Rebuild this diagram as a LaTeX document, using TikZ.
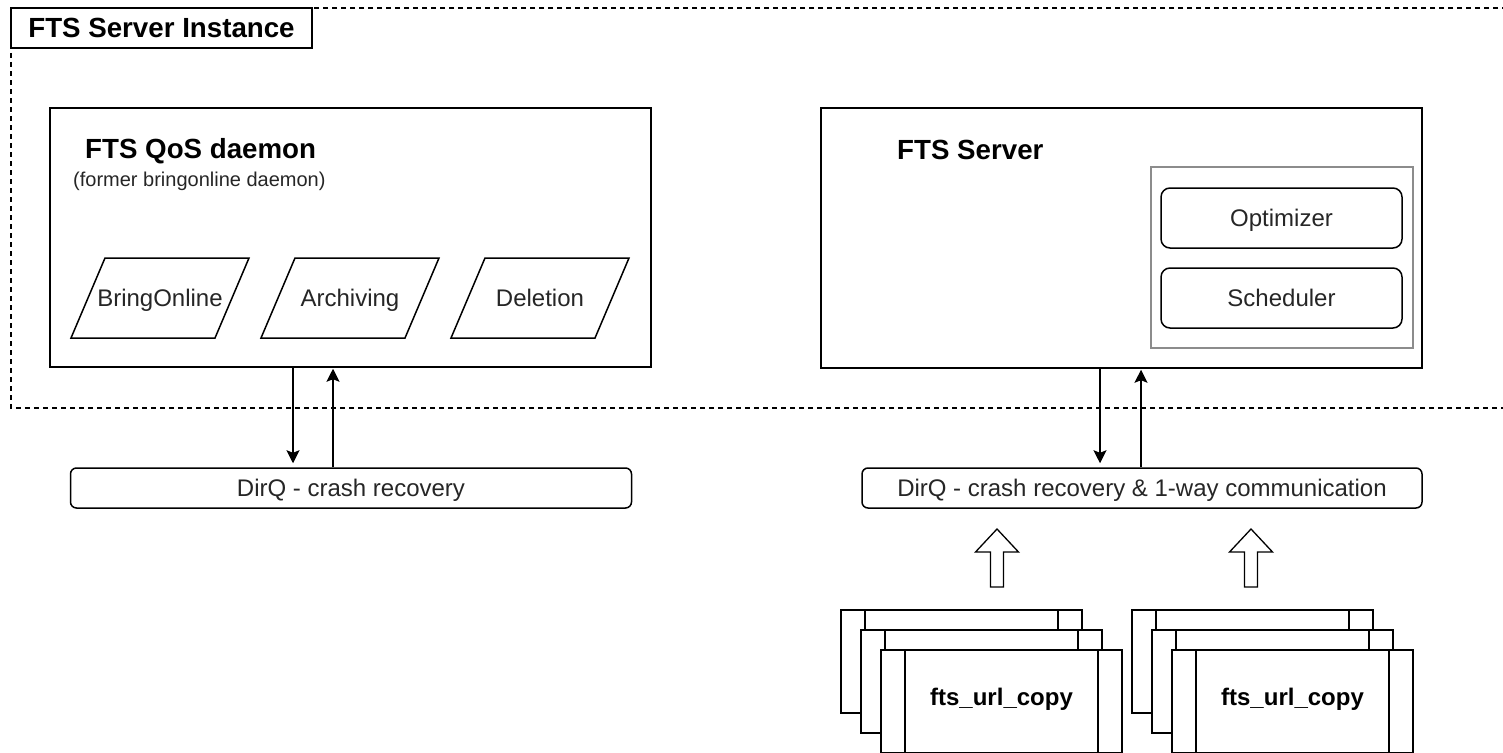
\documentclass[tikz,border=0pt]{standalone}
\usepackage{fontspec}
\setmainfont{Liberation Sans}
\usetikzlibrary{arrows.meta}
\begin{document}
\begin{tikzpicture}[x=1pt,y=-1pt,
  boxline/.style={line width=1.5pt},
  box/.style={draw, boxline, fill=white, inner sep=0pt},
  lbl/.style={font=\fontsize{24}{28}\selectfont, text=black!85, text height=17.2pt, text depth=0pt, inner sep=0pt},
  head/.style={font=\fontsize{27.7}{32}\selectfont\bfseries, anchor=base west, inner sep=0pt},
  sub/.style={font=\fontsize{20}{24}\selectfont, text=black!85, anchor=base west, inner sep=0pt},
  conn/.style={line width=1.3pt, -{Stealth[length=13pt,width=13pt,inset=2.5pt]}},
  proc/.pic={
    \draw[boxline, fill=white] (0,0) rectangle (241,103);
    \draw[boxline] (24,0) -- (24,103) (217,0) -- (217,103);
  }
]
\useasboundingbox (0,0) rectangle (1503,752);

% outer dashed frame
\draw[line width=1.2pt, dash pattern=on 5pt off 4pt] (11,8) rectangle (1520,408);
\node[box, minimum width=301pt, minimum height=40pt,
      font=\fontsize{27.7}{32}\selectfont\bfseries, text height=19.8pt, text depth=0pt]
      (title) at (161.5,28) {FTS Server Instance};

% QoS daemon
\node[box, minimum width=601pt, minimum height=259pt] (qos) at (350.5,237.5) {};
\node[head] (qost) at (85,158) {FTS QoS daemon};
\node[sub] (qoss) at (73,186) {(former bringonline daemon)};

\foreach \x/\t/\n in {71/BringOnline/bo, 261/Archiving/ar, 451/Deletion/de}{
  \draw[boxline, fill=white] (\x,338) -- ++(144,0) -- ++(34,-80) -- ++(-144,0) -- cycle;
  \node[lbl] (\n) at (\x+89,298) {\t};
}

% FTS Server
\node[box, minimum width=601pt, minimum height=260pt] (srv) at (1121.5,238) {};
\node[head] (srvt) at (897,159) {FTS Server};
\node[draw=black!45, line width=1.5pt, fill=white, minimum width=262pt, minimum height=181pt, inner sep=0pt] (grp) at (1282,257.5) {};
\node[box, rounded corners=9pt, minimum width=241pt, minimum height=60pt, lbl] (opt) at (1281.5,218) {Optimizer};
\node[box, rounded corners=9pt, minimum width=241pt, minimum height=60pt, lbl] (sch) at (1281.5,298) {Scheduler};

% DirQ boxes
\node[box, rounded corners=6pt, minimum width=561pt, minimum height=40pt, lbl] (dq1) at (351,488) {DirQ - crash recovery};
\node[box, rounded corners=6pt, minimum width=560pt, minimum height=40pt, lbl] (dq2) at (1142,488) {DirQ - crash recovery \& 1-way communication};

% connectors
\coordinate (xa) at (293,0);
\coordinate (xb) at (333,0);
\coordinate (xc) at (1100,0);
\coordinate (xd) at (1141,0);
\draw[conn, shorten >=4pt] (qos.south -| xa) -- (dq1.north -| xa);
\draw[conn, shorten >=1pt] (dq1.north -| xb) -- (qos.south -| xb);
\draw[conn, shorten >=4pt] (srv.south -| xc) -- (dq2.north -| xc);
\draw[conn, shorten >=1pt] (dq2.north -| xd) -- (srv.south -| xd);

% hollow block arrows
\coordinate (ba1) at (997,529);
\coordinate (ba2) at (1251,529);
\foreach \c in {ba1,ba2}{
  \draw[line width=1.3pt, fill=white] (\c) -- ++(21.5,23) -- ++(-15,0) -- ++(0,35) -- ++(-13,0) -- ++(0,-35) -- ++(-15,0) -- cycle;
}

% fts_url_copy stacks
\pic at (841,610) {proc};
\pic at (861,630) {proc};
\pic at (881,650) {proc};
\pic at (1132,610) {proc};
\pic at (1152,630) {proc};
\pic at (1172,650) {proc};
\node[font=\fontsize{24}{28}\selectfont\bfseries, anchor=base, inner sep=0pt] (fu1) at (1001.5,705) {fts\_url\_copy};
\node[font=\fontsize{24}{28}\selectfont\bfseries, anchor=base, inner sep=0pt] (fu2) at (1292.5,705) {fts\_url\_copy};
\end{tikzpicture}
\end{document}
